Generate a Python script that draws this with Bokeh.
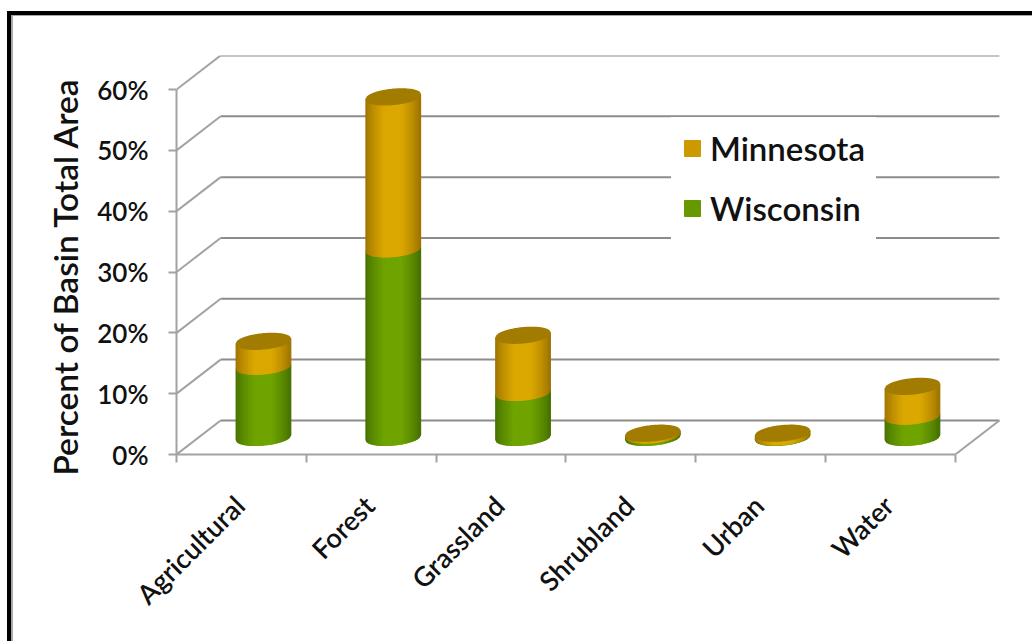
from math import pi, sqrt
from bokeh.plotting import figure
from bokeh.embed import file_html
from bokeh.resources import INLINE
from bokeh.models import Range1d, LinearAxis, FixedTicker, Legend, LegendItem, ColumnDataSource, Title

categories = ["Agricultural", "Forest", "Grassland", "Shrubland", "Urban", "Water"]
wisconsin = [11.7, 31.0, 7.4, 0.4, 0.1, 3.5]
minnesota = [4.1, 25.0, 9.4, 0.3, 0.6, 4.9]
y_ticks = [0, 10, 20, 30, 40, 50, 60]
y_labels = {v: f"{v}%" for v in y_ticks}

FONT = "Lato Semibold"
TEXT = "#111111"
DEPTH_X, DEPTH_Y = 0.34, 5.6        # oblique offset of the back wall
RX, RY, TILT = 0.21, 1.25, 0.40     # cylinder ellipse (data units)
GRID, AXIS = "#8c8c8c", "#a2a2a2"

p = figure(width=1019, height=625, output_backend="svg", toolbar_location=None,
           x_range=Range1d(0, 6.356), y_range=Range1d(0, 65.6),
           x_axis_type=None, y_axis_type=None,
           min_border_left=163, min_border_right=31, min_border_top=39, min_border_bottom=187)
p.styles = {"margin-left": "13px", "margin-top": "16px",
            "box-shadow": "-1px 0px 0 1px #a8a8a8, -3px -2px 0 3px black"}
p.grid.visible = False
p.outline_line_color = None

# walls and floor
p.segment(x0=[DEPTH_X] * len(y_ticks), x1=[6 + DEPTH_X] * len(y_ticks),
          y0=[v + DEPTH_Y for v in y_ticks], y1=[v + DEPTH_Y for v in y_ticks],
          line_color=GRID, line_width=2)
p.segment(x0=[0] * len(y_ticks), x1=[DEPTH_X] * len(y_ticks),
          y0=y_ticks, y1=[v + DEPTH_Y for v in y_ticks], line_color=AXIS, line_width=2)
p.segment(x0=[6], x1=[6 + DEPTH_X], y0=[0], y1=[DEPTH_Y], line_color=AXIS, line_width=2)


def mix(a, b, t):
    return "#%02x%02x%02x" % tuple(round(a[i] + (b[i] - a[i]) * t) for i in range(3))


GOLD = ((0x9a, 0x70, 0x00), (0xdb, 0xa8, 0x00))
GREEN = ((0x44, 0x6e, 0x00), (0x6f, 0xa4, 0x00))
CAP = "#a27c00"
N = 40


def lower_edge(cx, y, u):
    # u in -1..1 across the cylinder: front (lower) arc of the sheared ellipse
    return cx + RX * u, y - RY * sqrt(max(0.0, 1 - u * u)) + TILT * u


def upper_edge(cx, y, u):
    return cx + RX * u, y + RY * sqrt(max(0.0, 1 - u * u)) + TILT * u


def body(cx, y0, y1, ramp):
    xs, ys, cs = [], [], []
    for k in range(N):
        u0, u1 = -1 + 2 * k / N, -1 + 2 * (k + 1) / N
        a, b = lower_edge(cx, y0, u0), lower_edge(cx, y0, u1)
        c, d = lower_edge(cx, y1, u1), lower_edge(cx, y1, u0)
        xs.append([a[0], b[0], c[0], d[0]])
        ys.append([a[1], b[1], c[1], d[1]])
        um = abs((u0 + u1) / 2)
        shade = min(1.0, (1 - um) / 0.7) ** 0.7
        cs.append(mix(ramp[0], ramp[1], shade))
    return xs, ys, cs


cxs = [i + 0.5 + DEPTH_X / 2 for i in range(len(categories))]
base = DEPTH_Y / 2
tops_w = [base + w for w in wisconsin]
tops_m = [t + m for t, m in zip(tops_w, minnesota)]

# hidden core of each cylinder: gives the legend its swatches
r_w = p.quad(left=[c - 0.02 for c in cxs], right=[c + 0.02 for c in cxs], bottom=[base] * 6, top=tops_w,
             fill_color="#669900", line_color="#669900")
r_m = p.quad(left=[c - 0.02 for c in cxs], right=[c + 0.02 for c in cxs], bottom=tops_w, top=tops_m,
             fill_color="#cc9900", line_color="#cc9900")

bx, by, bc = [], [], []
for cx, tw, tm in zip(cxs, tops_w, tops_m):
    for y0, y1, ramp in ((base, tw, GREEN), (tw, tm, GOLD)):
        xs, ys, cs = body(cx, y0, y1, ramp)
        bx += xs
        by += ys
        bc += cs
    us = [-1 + 2 * k / 40 for k in range(41)]
    pts = [lower_edge(cx, tm, u) for u in us] + [upper_edge(cx, tm, u) for u in reversed(us)]
    bx.append([q[0] for q in pts])
    by.append([q[1] for q in pts])
    bc.append(CAP)
p.patches(xs="x", ys="y", fill_color="c", line_color="c", line_width=1.3,
          source=ColumnDataSource(dict(x=bx, y=by, c=bc)))

# axes
yaxis = LinearAxis(ticker=FixedTicker(ticks=y_ticks), bounds=(0, 60))
yaxis.major_label_overrides = y_labels
yaxis.major_label_text_font = FONT
yaxis.major_label_text_font_size = "26px"
yaxis.major_label_text_font_style = "normal"
yaxis.major_label_text_color = TEXT
yaxis.major_label_standoff = 20
yaxis.major_tick_in = 0
yaxis.major_tick_out = 8
yaxis.minor_tick_line_color = None
yaxis.major_tick_line_color = AXIS
yaxis.major_tick_line_width = 2
yaxis.axis_line_color = AXIS
yaxis.axis_line_width = 2
p.add_layout(yaxis, "left")

# label ticks sit mid-category; the tick marks at the category edges are minor ticks
centers = [i + 0.485 for i in range(len(categories))]
edges = list(range(len(categories) + 1))
xaxis = LinearAxis(ticker=FixedTicker(ticks=centers, minor_ticks=edges), bounds=(0, 6))
xaxis.major_label_overrides = dict(zip(centers, categories))
xaxis.major_label_orientation = pi / 4
xaxis.major_label_text_font = FONT
xaxis.major_label_text_font_size = "27px"
xaxis.major_label_text_font_style = "normal"
xaxis.major_label_text_color = TEXT
xaxis.major_label_standoff = 38
xaxis.major_tick_line_color = None
xaxis.minor_tick_in = 0
xaxis.minor_tick_out = 8
xaxis.minor_tick_line_color = AXIS
xaxis.minor_tick_line_width = 2
xaxis.axis_line_color = AXIS
xaxis.axis_line_width = 2
p.add_layout(xaxis, "below")

p.add_layout(Title(text="Percent of Basin Total Area", align="left", offset=-21, standoff=20,
                   text_font=FONT, text_font_size="33.5px", text_font_style="normal",
                   text_color=TEXT), "left")

# legend
legend = Legend(items=[LegendItem(label="Minnesota", renderers=[r_m]),
                       LegendItem(label="Wisconsin", renderers=[r_w])],
                location=(495, 215), padding=10, spacing=20, margin=0,
                glyph_width=20, glyph_height=20, label_standoff=8,
                label_text_font=FONT, label_text_font_size="33px",
                label_text_color=TEXT, border_line_color="white",
                background_fill_color="white", background_fill_alpha=1.0)
p.add_layout(legend)

open("out.html", "w").write(file_html(p, INLINE))
